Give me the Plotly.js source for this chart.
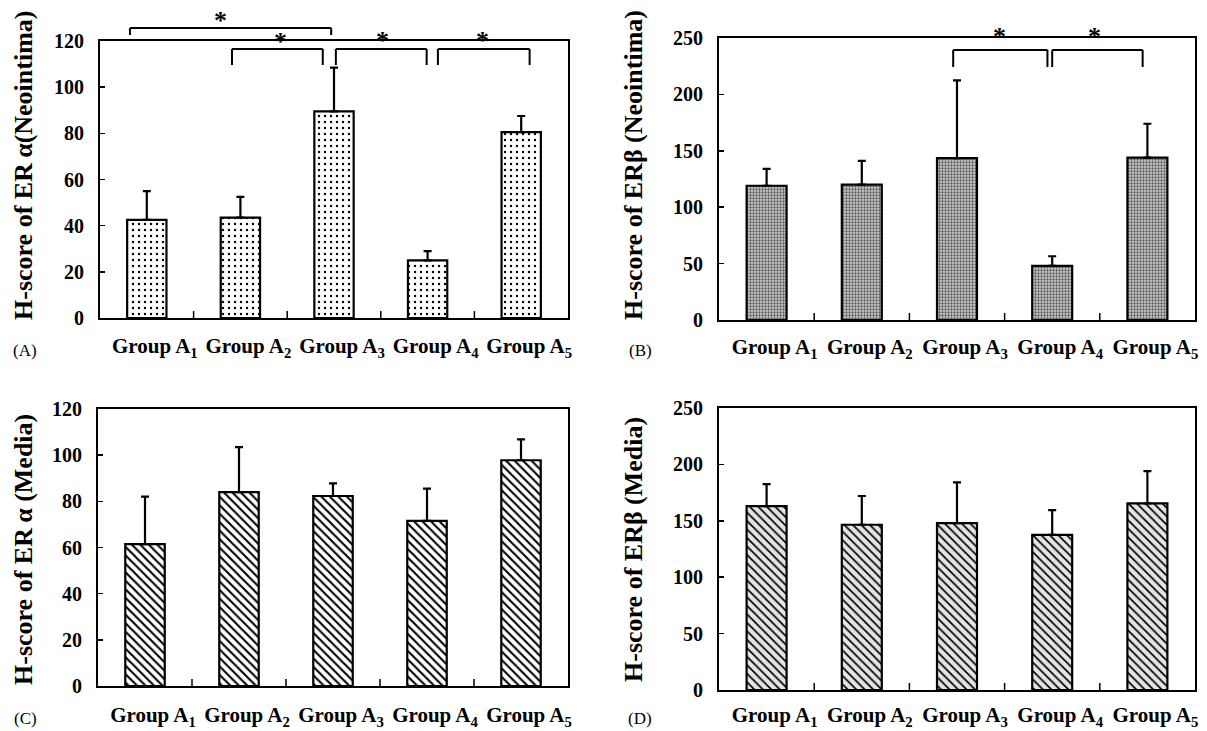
<!DOCTYPE html>
<html><head><meta charset="utf-8">
<script src="https://cdn.plot.ly/plotly-3.0.1.min.js"></script>
<style>html,body{margin:0;padding:0;background:#fff}#chart{width:1207px;height:731px}</style>
</head><body><div id="chart"></div>
<script>
const categories = ['Group A<sub>1</sub>','Group A<sub>2</sub>','Group A<sub>3</sub>','Group A<sub>4</sub>','Group A<sub>5</sub>'];
// Panel A: ER alpha, neointima
const eraNeoMean = [42.5, 43.5, 89.5, 25, 80.5];
const eraNeoSD   = [12.5, 9, 19, 4, 7];
// Panel B: ER beta, neointima
const erbNeoMean = [119, 120, 143.5, 48, 144];
const erbNeoSD   = [15, 21, 69, 8.5, 30];
// Panel C: ER alpha, media
const eraMedMean = [61.5, 84, 82.3, 71.5, 97.8];
const eraMedSD   = [20.5, 19.5, 5.5, 14, 9];
// Panel D: ER beta, media
const erbMedMean = [163, 146.5, 148, 137.5, 165.5];
const erbMedSD   = [19.5, 25.5, 36, 22, 28.5];
const panelLabels = ['(A)','(B)','(C)','(D)'];
const yTitles = ['H-score of ER\u2009\u03b1(Neointima)','H-score of ER\u03b2 (Neointima)','H-score of ER\u2009\u03b1 (Media)','H-score of ER\u03b2 (Media)'];

const serif = 'Liberation Serif, Times New Roman, serif';
const xs = [0,1,2,3,4];
function bar(mean, sd, xa, ya, pattern){
  return {type:'bar', x: xs, y: mean, xaxis: xa, yaxis: ya, width: 0.42,
    marker:{color: pattern.bgcolor, line:{color:'#000', width:2.2}, pattern: pattern},
    error_y:{type:'data', symmetric:false, array: sd, arrayminus: sd.map(()=>0), color:'#000', thickness:2.2, width:4},
    hoverinfo:'skip', showlegend:false};
}
const traces = [
  bar(eraNeoMean, eraNeoSD, 'x', 'y', {shape:'.', fgcolor:'#000', bgcolor:'#fff', size:6, solidity:0.12}),
  bar(erbNeoMean, erbNeoSD, 'x2', 'y2', {shape:'.', fgcolor:'#555', bgcolor:'#cfcfcf', size:3, solidity:0.45}),
  bar(eraMedMean, eraMedSD, 'x3', 'y3', {shape:'\\', fgcolor:'#000', bgcolor:'#fff', size:6, solidity:0.35}),
  bar(erbMedMean, erbMedSD, 'x4', 'y4', {shape:'\\', fgcolor:'#000', bgcolor:'#e4e4e4', size:6, solidity:0.28})
];

const W=1207, H=731;
const px = v=>v/W, py = v=>1-v/H;
const doms = [
  {x:[px(100),px(568)], y:[py(318),py(41)]},
  {x:[px(719),px(1195)], y:[py(320),py(38)]},
  {x:[px(98),px(568)], y:[py(686),py(409)]},
  {x:[px(719),px(1195)], y:[py(690),py(408)]}
];
const yRanges = [[0,120],[0,250],[0,120],[0,250]];
const yD = [20,50,20,50];
const xStand = [8, 7, 9, 5];
const titlePos = [23, 633, 23, 633];
const titleCy = [165, 165, 550, 550];

const layout = {width:W, height:H, margin:{l:0,r:0,t:0,b:0}, paper_bgcolor:'#fff', plot_bgcolor:'#fff',
  font:{family:serif, color:'#000'}, shapes:[], annotations:[]};

for(let i=0;i<4;i++){
  const s = i===0?'':String(i+1);
  layout['xaxis'+s] = {domain:doms[i].x, anchor:'y'+s, type:'linear', range:[-0.5,4.5],
    tickvals:xs, ticktext:categories, showline:true, mirror:true, linecolor:'#000', linewidth:2,
    ticks:'', showgrid:false, zeroline:false, ticklabelstandoff:xStand[i], ticklabelshift:8,
    tickfont:{family:serif, size:21, color:'#000', weight:'bold'}};
  layout['yaxis'+s] = {domain:doms[i].y, anchor:'x'+s, range:yRanges[i], dtick:yD[i], tick0:0,
    showline:true, mirror:true, linecolor:'#000', linewidth:2, ticks:'inside', ticklen:5, tickcolor:'#000', tickwidth:1.5,
    showgrid:false, zeroline:false, ticklabelstandoff:10,
    tickfont:{family:serif, size:20, color:'#000', weight:'bold'}};
  layout.annotations.push({xref:'paper', yref:'paper', x:px(titlePos[i]), y:py(titleCy[i]), text:yTitles[i], textangle:-90,
    showarrow:false, xanchor:'center', yanchor:'middle', font:{family:serif, size:26, color:'#000', weight:'bold'}});
  for(let b=0;b<4;b++){
    layout.shapes.push({type:'line', xref:'x'+s, yref:'y'+s+' domain', x0:b+0.5, x1:b+0.5, y0:0, y1:0.025, line:{color:'#000', width:1.5}});
  }
  const pl = [[25,351],[640,351],[25,718],[640,718]][i];
  layout.annotations.push({xref:'paper', yref:'paper', x:px(pl[0]), y:py(pl[1]), text:panelLabels[i], showarrow:false,
    font:{family:serif, size:17, color:'#000'}, xanchor:'center', yanchor:'middle'});
}

function br(xa, x0, x1, yTopPx, yLegPx){
  const yt = py(yTopPx), yl = py(yLegPx);
  layout.shapes.push({type:'line', xref:xa, yref:'paper', x0:x0, x1:x1, y0:yt, y1:yt, line:{color:'#000', width:2}});
  layout.shapes.push({type:'line', xref:xa, yref:'paper', x0:x0, x1:x0, y0:yt, y1:yl, line:{color:'#000', width:2}});
  layout.shapes.push({type:'line', xref:xa, yref:'paper', x0:x1, x1:x1, y0:yt, y1:yl, line:{color:'#000', width:2}});
}
function star(xa, x, yPx){
  layout.annotations.push({xref:xa, yref:'paper', x:x, y:py(yPx), text:'*', showarrow:false,
    font:{family:serif, size:26, color:'#000', weight:'bold'}, xanchor:'center', yanchor:'middle'});
}
br('x', -0.18, 1.97, 28, 35); star('x', 0.79, 21);
br('x', 0.91, 1.88, 49, 65);  star('x', 1.43, 42);
br('x', 2.02, 2.99, 49, 65);  star('x', 2.52, 40);
br('x', 3.11, 4.09, 49, 65);  star('x', 3.59, 40);
br('x2', 1.96, 2.95, 50, 67); star('x2', 2.45, 37);
br('x2', 3.0, 3.95, 50, 67);  star('x2', 3.44, 37);

Plotly.newPlot('chart', traces, layout, {staticPlot:true});
</script></body></html>
